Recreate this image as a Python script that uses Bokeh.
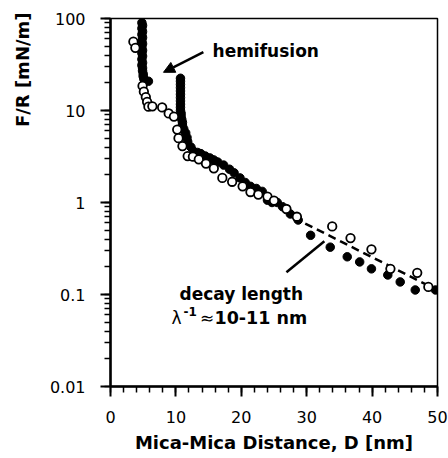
import math
from bokeh.plotting import figure
from bokeh.embed import file_html
from bokeh.resources import INLINE
from bokeh.models import (Label, Arrow, NormalHead, SingleIntervalTicker,
                          LogTicker, CustomJSTickFormatter, Title)

# ---- data ----
# filled circles: D [nm], F/R [mN/m]
filled_D = [4.8, 4.9, 4.8, 4.9, 4.8, 4.9, 4.8, 4.9, 4.8, 4.9, 4.8, 4.9, 4.8, 4.9,
            4.8, 4.9, 4.9, 5.0, 5.0, 5.1, 5.3, 5.8,
            10.7, 10.7, 10.7, 10.7, 10.7, 10.7, 10.7, 10.7, 10.7, 10.7, 10.7, 10.8,
            10.8, 10.9, 11.0, 11.0,
            11.2, 11.5, 11.7, 11.8, 12.3, 12.7, 13.3, 13.8, 14.5, 15.2, 15.8, 16.4,
            17.3, 18.2, 18.9, 19.8, 20.6, 21.4, 22.3, 23.2, 24.0, 24.7, 25.5, 26.3,
            27.5, 28.7, 30.6, 33.6, 36.2, 38.1, 39.9, 42.4, 44.3, 46.6, 49.7]
filled_F = [90, 84, 78, 72, 67, 62, 57, 53, 49, 45, 42, 39, 36, 33,
            31, 29, 27, 25, 23.5, 22, 21.3, 20.8,
            22.4, 20.8, 19.2, 17.7, 16.3, 15.0, 13.8, 12.7, 11.7, 10.8, 10.0, 9.3,
            8.6, 8.0, 7.4, 6.9,
            6.3, 5.7, 5.1, 4.6, 4.0, 3.6, 3.5, 3.4, 3.2, 3.05, 2.9, 2.75,
            2.55, 2.3, 2.1, 1.85, 1.65, 1.5, 1.42, 1.32, 1.06, 1.0, 1.0, 0.9,
            0.75, 0.645, 0.44, 0.327, 0.257, 0.226, 0.19, 0.163, 0.137, 0.112, 0.112]

# open circles
open_D = [3.5, 3.8, 4.9, 5.1, 5.4, 5.6, 5.8, 6.4, 7.9, 8.9, 9.7, 10.2, 10.4,
          11.0, 11.8, 12.6, 13.5, 14.6, 15.8, 17.1, 18.6, 20.2, 21.4, 22.6,
          24.0, 25.0, 26.9, 28.5, 33.9, 36.7, 39.9, 42.8, 46.9, 48.6]
open_F = [56, 48, 18.5, 16, 14, 12.4, 11, 11.1, 10.8, 9.3, 8.6, 6.2, 5.0,
          4.1, 3.2, 3.15, 2.95, 2.65, 2.35, 1.85, 1.68, 1.5, 1.3, 1.22,
          1.16, 1.05, 0.85, 0.7, 0.55, 0.41, 0.31, 0.19, 0.172, 0.121]

# exponential fit (dashed), end points
fit_D = [28.0, 49.0]
fit_F = [0.684, 0.121]

x_label = "Mica-Mica Distance, D [nm]"
y_label = "F/R [mN/m]"
FONT = "DejaVu Sans"

p = figure(width=448, height=458, x_range=(0, 50), y_range=(0.01, 100),
           y_axis_type="log", output_backend="svg", toolbar_location=None,
           min_border_left=110, min_border_right=11, min_border_top=18,
           min_border_bottom=72)

p.background_fill_color = "white"
p.border_fill_color = "white"
p.outline_line_color = "black"
p.outline_line_width = 1.5
p.xgrid.visible = False
p.ygrid.visible = False

xa = p.xaxis[0]
xa.ticker = SingleIntervalTicker(interval=10, num_minor_ticks=5)
ya = p.yaxis[0]
ya.ticker = LogTicker(num_minor_ticks=10)
ya.formatter = CustomJSTickFormatter(
    code="if (tick >= 1) { return tick.toFixed(0); } return tick.toPrecision(1);")

for ax in (xa, ya):
    ax.axis_line_width = 2.5
    ax.axis_line_color = "black"
    ax.major_tick_line_width = 2
    ax.minor_tick_line_width = 1.5
    ax.major_tick_out = 10
    ax.major_tick_in = 0
    ax.minor_tick_out = 6
    ax.minor_tick_in = 0
    ax.major_label_text_font = FONT
    ax.major_label_text_font_size = "16px"
    ax.major_label_text_color = "black"
xa.major_label_standoff = 14
ya.major_label_standoff = 15

xa.axis_label = x_label
xa.axis_label_text_font = FONT
xa.axis_label_text_font_size = "18px"
xa.axis_label_text_font_style = "bold"
xa.axis_label_text_color = "black"
xa.axis_label_standoff = 6

ya.axis_label = None
p.add_layout(Title(text=y_label, align="right", vertical_align="top",
                   text_font=FONT, text_font_size="18px", text_font_style="bold",
                   text_color="black", standoff=23, offset=-6), "left")

# dashed fit line
p.line(fit_D, fit_F, line_color="black", line_width=2.5, line_dash="8 5")

# markers
p.scatter(filled_D, filled_F, marker="circle", size=8.5,
          fill_color="black", line_color="black", line_width=1)
p.scatter(open_D, open_F, marker="circle", size=8.5,
          fill_color="white", line_color="black", line_width=1.8)

# pointer line for decay length
p.line([26.9, 32.7], [0.1746, 0.379], line_color="black", line_width=2.5)

# hemifusion arrow
p.add_layout(Arrow(end=NormalHead(size=11, fill_color="black", line_color="black"),
                   x_start=14.2, y_start=43, x_end=8.1, y_end=26,
                   line_width=2.5, line_color="black"))

def lab(text, x, y, size="17px", style="bold"):
    p.add_layout(Label(text=text, x=x, y=y, text_font=FONT, text_font_size=size,
                       text_font_style=style, text_color="black",
                       text_baseline="alphabetic", text_align="left"))

lab("hemifusion", 15.6, 44.0)
lab("decay length", 10.55, 0.1008)
lab("\u03bb", 9.33, 0.0553, style="normal")
lab("-1", 11.16, 0.0659, size="12px")
lab("\u2248", 13.7, 0.0553, style="normal")
lab("10-11 nm", 15.9, 0.0553, size="17.5px")

open("out.html", "w").write(file_html(p, INLINE))
